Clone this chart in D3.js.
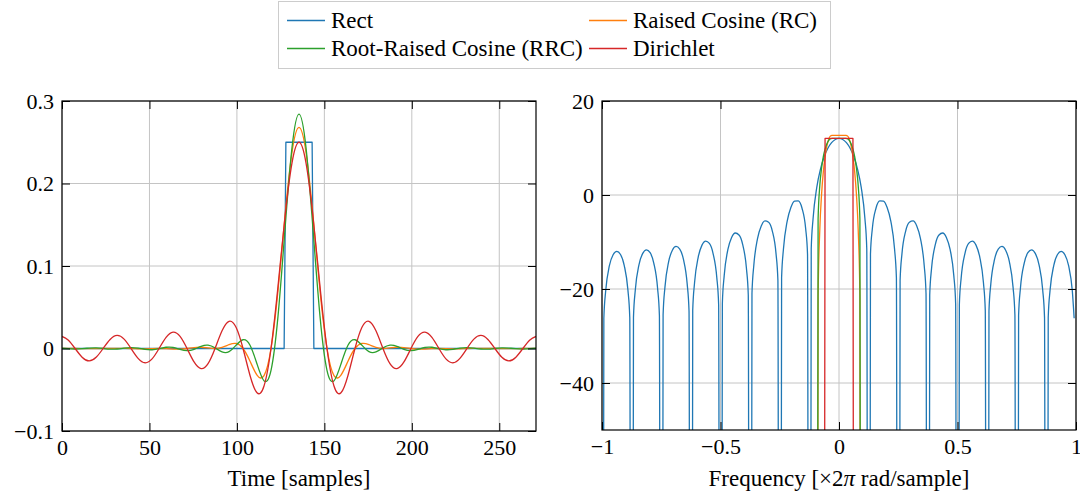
<!DOCTYPE html>
<html>
<head>
<meta charset="utf-8">
<script src="https://cdn.jsdelivr.net/npm/d3@7"></script>
<style>
  html, body { margin: 0; padding: 0; background: #fff; }
  svg { display: block; font-family: "Liberation Serif", "Times New Roman", serif; }
  svg text { font-family: "Liberation Serif", "Times New Roman", serif; }
</style>
</head>
<body>
<svg id="chart" width="1080" height="499"></svg>
<script>
// ---- data: time domain (samples) ----
var timeSamples = [0, 3.5, 7.5, 11.5, 15.5, 19.5, 23.5, 27.5, 31.5, 35.5, 39.5, 43.5, 47.5, 51.5,
    55.5, 59.5, 63.5, 67.5, 71.5, 75.5, 79.5, 83.5, 87.5, 91.5, 95.5, 99.5, 103.5, 107.5, 111.5,
    115.5, 119.5, 123.5, 127.5, 131.5, 135.5, 139.5, 143.5, 147.5, 151.5, 155.5, 159.5, 163.5,
    167.5, 171.5, 175.5, 179.5, 183.5, 187.5, 191.5, 195.5, 199.5, 203.5, 207.5, 211.5, 215.5,
    219.5, 223.5, 227.5, 231.5, 235.5, 239.5, 243.5, 247.5, 251.5, 255.5, 259.5, 263.5, 267.5, 271];

var rectTime = [0, 127, 128, 143, 144, 271];
var rectPulse = [0, 0, 0.25, 0.25, 0, 0];

var rcPulse = [0.0001, 0.0001, 0, -0.0001, -0.0001, -0.0001, 0, 0.0002, 0.0002, 0.0001, 0, -0.0003,
    -0.0004, -0.0002, 0, -0.0002, -0.0007, -0.0008, 0, 0.0011, 0.0015, 0.0007, 0, 0.0013, 0.0046,
    0.0061, 0, -0.0154, -0.0322, -0.0328, 0, 0.0704, 0.1609, 0.2378, 0.268,
    0.2378, 0.1609, 0.0704, 0, -0.0328, -0.0322, -0.0154, 0, 0.0061, 0.0046, 0.0013, 0, 0.0007,
    0.0015, 0.0011, 0, -0.0008, -0.0007, -0.0002, 0, -0.0002, -0.0004, -0.0003, 0, 0.0001, 0.0002,
    0.0002, 0, -0.0001, -0.0001, -0.0001, 0, 0.0001, 0.0001];

var rrcPulse = [0.0003, -0.0002, -0.0006, -0.0002, 0.0005, 0.0008, 0.0001, -0.0008, -0.0006, 0.0004,
    0.0011, 0.0004, -0.0010, -0.0015, -0.0002, 0.0015, 0.0013, -0.0010, -0.0025, -0.0010, 0.0027,
    0.0041, 0.0008, -0.0041, -0.0038, 0.0039, 0.0106, 0.0039, -0.0188, -0.0392, -0.0265, 0.0392,
    0.1447, 0.2436, 0.2842,
    0.2436, 0.1447, 0.0392, -0.0265, -0.0392, -0.0188, 0.0039, 0.0106, 0.0039, -0.0038, -0.0041,
    0.0008, 0.0041, 0.0027, -0.0010, -0.0025, -0.0010, 0.0013, 0.0015, -0.0002, -0.0015, -0.0010,
    0.0004, 0.0011, 0.0004, -0.0006, -0.0008, 0.0001, 0.0008, 0.0005, -0.0002, -0.0006, -0.0002, 0.0003];

var dirichletPulse = [0.0146, 0.0104, 0, -0.0105, -0.0150, -0.0107, 0, 0.0110, 0.0158, 0.0114, 0,
    -0.0119, -0.0173, -0.0126, 0, 0.0135, 0.0199, 0.0147, 0, -0.0163, -0.0244, -0.0184, 0, 0.0214,
    0.0330, 0.0257, 0, -0.0327, -0.0537, -0.0454, 0, 0.0753, 0.1593, 0.2251, 0.25,
    0.2251, 0.1593, 0.0753, 0, -0.0454, -0.0537, -0.0327, 0, 0.0257, 0.0330, 0.0214, 0, -0.0184,
    -0.0244, -0.0163, 0, 0.0147, 0.0199, 0.0135, 0, -0.0126, -0.0173, -0.0119, 0, 0.0114, 0.0158,
    0.0110, 0, -0.0107, -0.0150, -0.0105, 0, 0.0104, 0.0146];

// ---- data: frequency domain (dB), -300 = numerical floor at the nulls ----
var rectSpecFreq = [-1,
    -0.9922, -0.9844, -0.9688, -0.9531, -0.9375, -0.9219, -0.9063, -0.8906, -0.8828, -0.875,
    -0.8672, -0.8594, -0.8438, -0.8281, -0.8125, -0.7969, -0.7813, -0.7656, -0.7578, -0.75,
    -0.7422, -0.7344, -0.7188, -0.7031, -0.6875, -0.6719, -0.6563, -0.6406, -0.6328, -0.625,
    -0.6172, -0.6094, -0.5938, -0.5781, -0.5625, -0.5469, -0.5313, -0.5156, -0.5078, -0.5,
    -0.4922, -0.4844, -0.4688, -0.4531, -0.4375, -0.4219, -0.4063, -0.3906, -0.3828, -0.375,
    -0.3672, -0.3594, -0.3438, -0.3281, -0.3125, -0.2969, -0.2813, -0.2656, -0.2578, -0.25,
    -0.2422, -0.2344, -0.2188, -0.2031, -0.1875, -0.1719, -0.1563, -0.1406, -0.1328, -0.125,
    -0.1172, -0.1094, -0.0938, -0.0781, -0.0625, -0.0469, -0.0313, -0.0156,
    0,
    0.0156, 0.0313, 0.0469, 0.0625, 0.0781, 0.0938, 0.1094, 0.1172,
    0.125, 0.1328, 0.1406, 0.1563, 0.1719, 0.1875, 0.2031, 0.2188, 0.2344, 0.2422,
    0.25, 0.2578, 0.2656, 0.2813, 0.2969, 0.3125, 0.3281, 0.3438, 0.3594, 0.3672,
    0.375, 0.3828, 0.3906, 0.4063, 0.4219, 0.4375, 0.4531, 0.4688, 0.4844, 0.4922,
    0.5, 0.5078, 0.5156, 0.5313, 0.5469, 0.5625, 0.5781, 0.5938, 0.6094, 0.6172,
    0.625, 0.6328, 0.6406, 0.6563, 0.6719, 0.6875, 0.7031, 0.7188, 0.7344, 0.7422,
    0.75, 0.7578, 0.7656, 0.7813, 0.7969, 0.8125, 0.8281, 0.8438, 0.8594, 0.8672,
    0.875, 0.8828, 0.8906, 0.9063, 0.9219, 0.9375, 0.9531, 0.9688, 0.9844, 0.9922];

var rectSpecDb = [-300,
    -26.23, -20.38, -15.04, -12.71, -12.00, -12.66, -14.96, -20.25, -26.08, -300,
    -26.04, -20.17, -14.79, -12.41, -11.66, -12.28, -14.53, -19.78, -25.59, -300,
    -25.50, -19.60, -14.17, -11.75, -10.95, -11.52, -13.71, -18.91, -24.69, -300,
    -24.55, -18.63, -13.15, -10.66, -9.80, -10.31, -12.45, -17.58, -23.33, -300,
    -23.11, -17.15, -11.59, -9.03, -8.09, -8.51, -10.55, -15.59, -21.28, -300,
    -20.96, -14.95, -9.27, -6.58, -5.51, -5.79, -7.67, -12.53, -18.14, -300,
    -17.62, -11.50, -5.60, -2.66, -1.30, -1.25, -2.76, -7.19, -12.55, -300,
    -11.48, -5.04, 1.62, 5.52, 8.13, 9.94, 11.13, 11.82,
    12.04,
    11.82, 11.13, 9.94, 8.13, 5.52, 1.62, -5.04, -11.48,
    -300, -12.55, -7.19, -2.76, -1.25, -1.30, -2.66, -5.60, -11.50, -17.62,
    -300, -18.14, -12.53, -7.67, -5.79, -5.51, -6.58, -9.27, -14.95, -20.96,
    -300, -21.28, -15.59, -10.55, -8.51, -8.09, -9.03, -11.59, -17.15, -23.11,
    -300, -23.33, -17.58, -12.45, -10.31, -9.80, -10.66, -13.15, -18.63, -24.55,
    -300, -24.69, -18.91, -13.71, -11.52, -10.95, -11.75, -14.17, -19.60, -25.50,
    -300, -25.59, -19.78, -14.53, -12.28, -11.66, -12.41, -14.79, -20.17, -26.04,
    -300, -26.08, -20.25, -14.96, -12.66, -12.00, -12.71, -15.04, -20.38, -26.23];

var bandFreq = [-0.0956, -0.0882, -0.0809, -0.0735, -0.0662, -0.0588, -0.0515, -0.0441, -0.0368,
    -0.0294, -0.0221, -0.0147, -0.0074, 0, 0.0074, 0.0147, 0.0221, 0.0294, 0.0368, 0.0441, 0.0515,
    0.0588, 0.0662, 0.0735, 0.0809, 0.0882, 0.0956];

var rcSpecDb = [-300, -21.7, -7.25, 0.19, 4.92, 8.14, 10.36, 11.77, 12.53,
    12.7, 12.7, 12.7, 12.7, 12.7, 12.7, 12.7, 12.7, 12.7,
    12.53, 11.77, 10.36, 8.14, 4.92, 0.19, -7.25, -21.7, -300];

var rrcSpecDb = [-300, -5.16, 2.06, 5.78, 8.15, 9.76, 10.87, 11.57, 11.96,
    12.04, 12.04, 12.04, 12.04, 12.04, 12.04, 12.04, 12.04, 12.04,
    11.96, 11.57, 10.87, 9.76, 8.15, 5.78, 2.06, -5.16, -300];

var dirichletSpecDb = [-300, -300, -300, -300, -300,
    12.04, 12.04, 12.04, 12.04, 12.04, 12.04, 12.04, 12.04, 12.04, 12.04, 12.04, 12.04, 12.04,
    12.04, 12.04, 12.04, 12.04,
    -300, -300, -300, -300, -300];

var timeTicksX = [0, 50, 100, 150, 200, 250];
var timeTicksY = [-0.1, 0, 0.1, 0.2, 0.3];
var freqTicksX = [-1, -0.5, 0, 0.5, 1];
var freqTicksY = [-40, -20, 0, 20];

var seriesNames = ["Rect", "Raised Cosine (RC)", "Root-Raised Cosine (RRC)", "Dirichlet"];
var seriesColors = ["#1f77b4", "#ff7f0e", "#2ca02c", "#d62728"];

// ---- drawing ----
var svg = d3.select("#chart");
var fmt = d3.format("~g");
var serif = "'Liberation Serif', 'Times New Roman', serif";

function zip(xs, ys) {
    return xs.map(function (d, i) { return [d, ys[i]]; });
}

function drawPanel(id, box, xDomain, yDomain, xTicks, yTicks) {
    var x = d3.scaleLinear().domain(xDomain).range([box.left, box.right]);
    var y = d3.scaleLinear().domain(yDomain).range([box.bottom, box.top]);
    var w = box.right - box.left, h = box.bottom - box.top;

    svg.append("clipPath").attr("id", "clip-" + id)
        .append("rect").attr("x", box.left).attr("y", box.top).attr("width", w).attr("height", h);

    var grid = svg.append("g").attr("stroke", "#c4c4c4").attr("stroke-width", 1);
    grid.selectAll("line.gx").data(xTicks).enter().append("line")
        .attr("x1", function (d) { return x(d); }).attr("x2", function (d) { return x(d); })
        .attr("y1", box.top).attr("y2", box.bottom);
    grid.selectAll("line.gy").data(yTicks).enter().append("line")
        .attr("x1", box.left).attr("x2", box.right)
        .attr("y1", function (d) { return y(d); }).attr("y2", function (d) { return y(d); });

    var plot = svg.append("g").attr("clip-path", "url(#clip-" + id + ")");
    return {x: x, y: y, plot: plot, box: box, xTicks: xTicks, yTicks: yTicks};
}

function finishPanel(p) {
    var box = p.box;
    var axB = d3.axisBottom(p.x).tickValues(p.xTicks).tickSize(-8).tickPadding(8.5).tickFormat(fmt);
    var axT = d3.axisTop(p.x).tickValues(p.xTicks).tickSize(-8).tickFormat("");
    var axL = d3.axisLeft(p.y).tickValues(p.yTicks).tickSize(-8).tickPadding(8).tickFormat(fmt);
    var axR = d3.axisRight(p.y).tickValues(p.yTicks).tickSize(-8).tickFormat("");

    [[axB, "translate(0," + box.bottom + ")"], [axT, "translate(0," + box.top + ")"],
     [axL, "translate(" + box.left + ",0)"], [axR, "translate(" + box.right + ",0)"]].forEach(function (a) {
        var g = svg.append("g").attr("transform", a[1]).call(a[0]);
        g.attr("font-family", null).attr("font-size", null);
        g.select(".domain").remove();
        g.selectAll("line").attr("stroke", "#000").attr("stroke-width", 1);
        g.selectAll("text").attr("fill", "#000")
            .style("font-family", serif).style("font-size", "22px");
    });

    svg.append("rect")
        .attr("x", box.left).attr("y", box.top)
        .attr("width", box.right - box.left).attr("height", box.bottom - box.top)
        .attr("fill", "none").attr("stroke", "#000").attr("stroke-width", 1.2);
}

function addLine(p, pts, color, curve) {
    p.plot.append("path")
        .datum(pts)
        .attr("fill", "none")
        .attr("stroke", color)
        .attr("stroke-width", 1.3)
        .attr("stroke-linejoin", "round")
        .attr("d", d3.line()
            .x(function (d) { return p.x(d[0]); })
            .y(function (d) { return p.y(d[1]); })
            .curve(curve));
}

// left panel: time
var left = drawPanel("time", {left: 62, right: 536, top: 101, bottom: 431}, [0, 271], [-0.1, 0.3],
    timeTicksX, timeTicksY);
addLine(left, zip(rectTime, rectPulse), seriesColors[0], d3.curveLinear);
addLine(left, zip(timeSamples, rcPulse), seriesColors[1], d3.curveNatural);
addLine(left, zip(timeSamples, rrcPulse), seriesColors[2], d3.curveNatural);
addLine(left, zip(timeSamples, dirichletPulse), seriesColors[3], d3.curveNatural);
finishPanel(left);

// right panel: frequency
var right = drawPanel("freq", {left: 602, right: 1076, top: 101, bottom: 430}, [-1, 1], [-50, 20],
    freqTicksX, freqTicksY);
addLine(right, zip(rectSpecFreq, rectSpecDb), seriesColors[0], d3.curveMonotoneX);
addLine(right, zip(bandFreq, rcSpecDb), seriesColors[1], d3.curveMonotoneX);
addLine(right, zip(bandFreq, rrcSpecDb), seriesColors[2], d3.curveMonotoneX);
addLine(right, zip(bandFreq, dirichletSpecDb), seriesColors[3], d3.curveLinear);
finishPanel(right);

// axis titles
svg.append("text")
    .attr("x", (62 + 536) / 2).attr("y", 486)
    .attr("text-anchor", "middle").style("font-size", "23px")
    .text("Time [samples]");

var ft = svg.append("text")
    .attr("x", (602 + 1076) / 2).attr("y", 486)
    .attr("text-anchor", "middle").style("font-size", "23px");
ft.append("tspan").text("Frequency [×2");
ft.append("tspan").attr("font-style", "italic").text("π");
ft.append("tspan").text(" rad/sample]");

// legend
var legend = svg.append("g");
legend.append("rect")
    .attr("x", 278.5).attr("y", 1.5).attr("width", 552).attr("height", 67)
    .attr("fill", "#fff").attr("stroke", "#cccccc").attr("stroke-width", 1);

var colX = [287, 589], rowY = [20.5, 48.5];
seriesNames.forEach(function (name, i) {
    var cx = colX[i % 2], cy = rowY[Math.floor(i / 2)];
    legend.append("line")
        .attr("x1", cx).attr("x2", cx + 38).attr("y1", cy).attr("y2", cy)
        .attr("stroke", seriesColors[i]).attr("stroke-width", 1.5);
    legend.append("text")
        .attr("x", cx + 44).attr("y", cy + 7)
        .style("font-size", "23px")
        .text(name);
});
</script>
</body>
</html>
